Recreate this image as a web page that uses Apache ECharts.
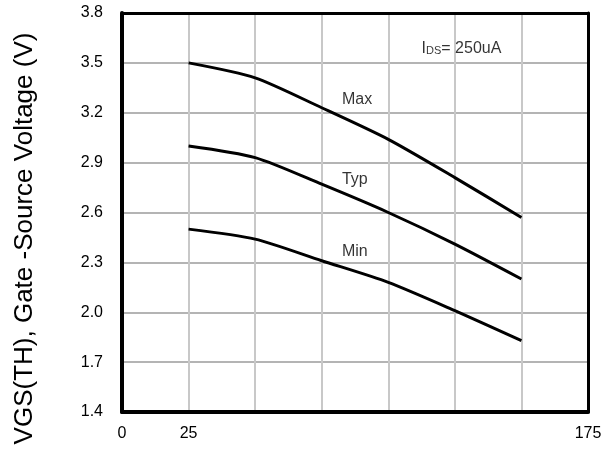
<!DOCTYPE html>
<html>
<head>
<meta charset="utf-8">
<script src="https://cdn.jsdelivr.net/npm/echarts@6/dist/echarts.min.js"></script>
<style>
html,body{margin:0;padding:0;background:#fff;}
#c{width:616px;height:449px;}
</style>
</head>
<body>
<div id="c"></div>
<script>
// Data
const temps = [25, 50, 75, 100, 125, 150];
const vgsMax = [3.50, 3.41, 3.23, 3.04, 2.81, 2.57];
const vgsTyp = [3.00, 2.93, 2.77, 2.60, 2.41, 2.20];
const vgsMin = [2.50, 2.44, 2.31, 2.18, 2.01, 1.83];
const xTickLabels = [0, 25, 175];
const yTickLabels = ['1.4','1.7','2.0','2.3','2.6','2.9','3.2','3.5','3.8'];
const curveLabels = [
  { name: 'Max', x: 82.6, y: 3.277 },
  { name: 'Typ', x: 82.6, y: 2.795 },
  { name: 'Min', x: 82.6, y: 2.362 }
];
const condition = { x: 112.5, y: 3.583, main: 'I', sub: 'DS', rest: '= 250uA' };
const yTitle = 'VGS(TH), Gate -Source Voltage (V)';

const SANS = '"Liberation Sans", Arial, sans-serif';

function pairs(xs, ys) { return xs.map((x, i) => [x, ys[i]]); }

const lineSeries = (name, ys) => ({
  name: name,
  type: 'line',
  data: pairs(temps, ys),
  smooth: 0.25,
  symbol: 'none',
  lineStyle: { color: '#000', width: 3 },
  z: 5,
  silent: true
});

const chart = echarts.init(document.getElementById('c'), null, { renderer: 'canvas' });
chart.setOption({
  animation: false,
  backgroundColor: '#fff',
  grid: { left: 122, right: 28, top: 13, bottom: 37 },
  xAxis: [{
    type: 'value', min: 0, max: 175, interval: 25,
    axisLine: { show: true, onZero: false, lineStyle: { color: '#000', width: 4 } },
    axisTick: { show: false },
    splitLine: { show: true, lineStyle: { color: '#c8c8c8', width: 2, type: 'solid', opacity: 1 } },
    axisLabel: {
      margin: 14, color: '#000', fontFamily: SANS, fontSize: 16,
      formatter: v => (xTickLabels.indexOf(v) >= 0 ? String(v) : '')
    },
    z: 3
  }, {
    type: 'value', position: 'top', min: 0, max: 175, interval: 25,
    axisLine: { show: true, onZero: false, lineStyle: { color: '#000', width: 3 } },
    axisTick: { show: false }, axisLabel: { show: false }, splitLine: { show: false },
    z: 3
  }],
  yAxis: [{
    type: 'value', min: 1.4, max: 3.8, interval: 0.3,
    axisLine: { show: true, onZero: false, lineStyle: { color: '#000', width: 4 } },
    axisTick: { show: false },
    splitLine: { show: true, lineStyle: { color: '#b4b4b4', width: 2, type: 'solid', opacity: 1 } },
    axisLabel: {
      margin: 19, color: '#000', fontFamily: SANS, fontSize: 16,
      formatter: v => {
        const s = v.toFixed(1);
        return yTickLabels.indexOf(s) >= 0 ? s : '';
      }
    },
    z: 3
  }, {
    type: 'value', position: 'right', min: 1.4, max: 3.8, interval: 0.3,
    axisLine: { show: true, onZero: false, lineStyle: { color: '#000', width: 3 } },
    axisTick: { show: false }, axisLabel: { show: false }, splitLine: { show: false },
    z: 3
  }],
  graphic: [{
    type: 'text',
    x: 25, y: 238.5,
    rotation: Math.PI / 2,
    style: {
      text: yTitle, fill: '#000',
      font: '26px ' + SANS,
      align: 'center', verticalAlign: 'middle'
    }
  }],
  series: [
    lineSeries('Max', vgsMax),
    lineSeries('Typ', vgsTyp),
    lineSeries('Min', vgsMin),
    {
      type: 'scatter',
      data: curveLabels.map(d => ({ name: d.name, value: [d.x, d.y] })),
      symbolSize: 0,
      silent: true,
      z: 6,
      label: {
        show: true, position: 'right', distance: 0,
        formatter: p => p.name,
        color: '#000', fontFamily: SANS, fontSize: 16
      }
    },
    {
      type: 'scatter',
      data: [{ value: [condition.x, condition.y] }],
      symbolSize: 0,
      silent: true,
      z: 6,
      label: {
        show: true, position: 'right', distance: 0,
        formatter: '{m|' + condition.main + '}{s|' + condition.sub + '}{r|' + condition.rest + '}',
        rich: {
          m: { color: '#000', fontFamily: SANS, fontSize: 16, verticalAlign: 'bottom' },
          s: { color: '#000', fontFamily: SANS, fontSize: 11, verticalAlign: 'bottom', padding: [0, 0, 1, 0] },
          r: { color: '#000', fontFamily: SANS, fontSize: 16, verticalAlign: 'bottom' }
        }
      }
    }
  ]
});
</script>
</body>
</html>
